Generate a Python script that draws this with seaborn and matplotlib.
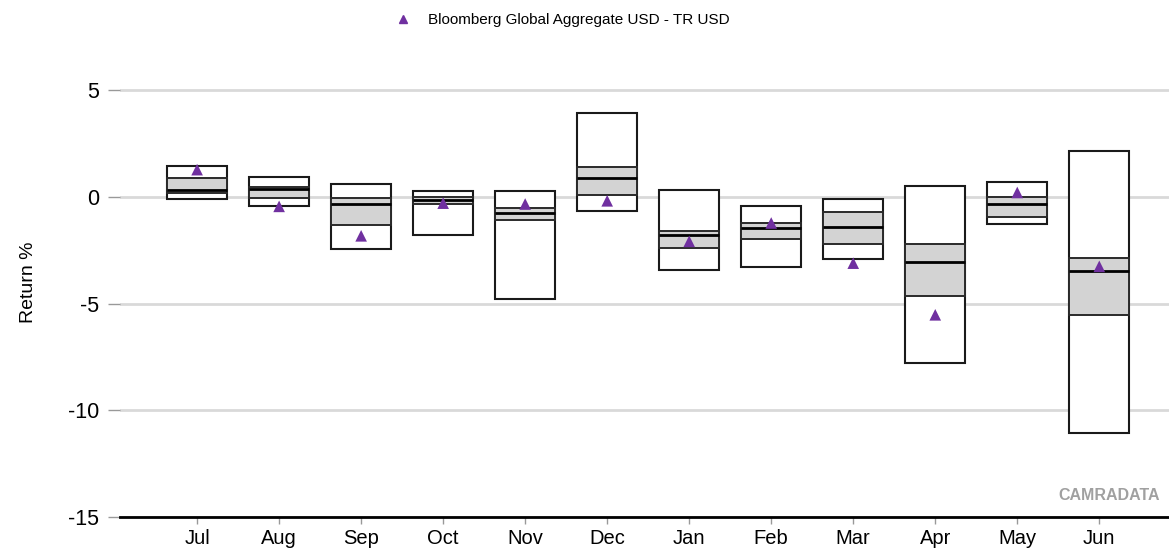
import numpy as np
import pandas as pd
import matplotlib
matplotlib.use("Agg")
import matplotlib.pyplot as plt
import seaborn as sns
from matplotlib.lines import Line2D

months = ["Jul", "Aug", "Sep", "Oct", "Nov", "Dec", "Jan", "Feb", "Mar", "Apr", "May", "Jun"]
hi = [1.42, 0.92, 0.59, 0.28, 0.28, 3.90, 0.30, -0.41, -0.11, 0.52, 0.67, 2.12]
q3 = [0.87, 0.45, -0.06, -0.03, -0.53, 1.39, -1.59, -1.25, -0.70, -2.23, -0.03, -2.87]
med = [0.30, 0.36, -0.33, -0.15, -0.76, 0.86, -1.81, -1.48, -1.41, -3.04, -0.34, -3.48]
q1 = [0.17, -0.06, -1.31, -0.34, -1.08, 0.09, -2.40, -1.98, -2.20, -4.67, -0.97, -5.53]
lo = [-0.12, -0.45, -2.44, -1.78, -4.79, -0.66, -3.42, -3.29, -2.92, -7.81, -1.28, -11.05]
bench = [1.27, -0.45, -1.83, -0.30, -0.34, -0.19, -2.09, -1.23, -3.11, -5.53, 0.20, -3.26]
bench_name = "Bloomberg Global Aggregate USD - TR USD"
yticks = [5, 0, -5, -10, -15]

df = pd.DataFrame({"month": months, "hi": hi, "q3": q3, "med": med, "q1": q1, "lo": lo, "bench": bench})
df["outer_h"] = df["hi"] - df["lo"]
df["inner_h"] = df["q3"] - df["q1"]

sns.set_style("white")
plt.rcParams["font.family"] = ["Liberation Sans", "DejaVu Sans"]
plt.rcParams["text.color"] = "black"
plt.rcParams["axes.labelcolor"] = "black"
plt.rcParams["xtick.color"] = "black"
plt.rcParams["ytick.color"] = "black"

fig = plt.figure(figsize=(11.69, 5.54), dpi=100)
ax = fig.add_axes([120 / 1169, 37 / 554, 1 - 120 / 1169, (517 - 47.3) / 554])

W = 0.73
sns.barplot(data=df, x="month", y="outer_h", order=months, bottom=df["lo"].values,
            color="white", saturation=1, edgecolor="#1a1a1a", linewidth=1.5,
            width=W, errorbar=None, ax=ax, zorder=2)
sns.barplot(data=df, x="month", y="inner_h", order=months, bottom=df["q1"].values,
            color="#d3d3d3", saturation=1, edgecolor="#2a2a2a", linewidth=1.4,
            width=W, errorbar=None, ax=ax, zorder=3)
xpos = np.arange(len(months))
ax.hlines(df["med"], xpos - W / 2, xpos + W / 2, colors="black", linewidth=2.0, zorder=4)
sns.scatterplot(data=df, x="month", y="bench", marker="^", color="#7030A0", s=70,
                edgecolor="none", ax=ax, zorder=5, legend=False)

ax.set_xlim(-0.94, 11.85)
ax.set_ylim(-15, 7)
ax.set_yticks(yticks)
ax.set_yticklabels([str(t) for t in yticks], fontsize=15.5)
ax.tick_params(axis="y", length=9, width=1, color="#999999", labelcolor="black", pad=6, left=True)
ax.tick_params(axis="x", length=5, width=1, color="#999999", labelcolor="black", pad=4, labelsize=14.5, bottom=True)
ax.set_xlabel("")
ax.set_ylabel("Return %", fontsize=14, labelpad=22, color="black")
ax.grid(axis="y", color="#d9d9d9", linewidth=2)
ax.grid(axis="x", visible=False)
ax.set_axisbelow(True)
for s in ["left", "top", "right"]:
    ax.spines[s].set_visible(False)
ax.spines["bottom"].set_color("black")
ax.spines["bottom"].set_linewidth(2)
ax.spines["bottom"].set_zorder(6)

handle = Line2D([], [], marker="^", color="#7030A0", linestyle="none", markersize=6)
fig.legend([handle], [bench_name], loc="center", bbox_to_anchor=(0.478, 0.963),
           frameon=False, fontsize=11, handletextpad=0.6, labelcolor="black")

fig.text(1160 / 1169, 1 - 495 / 554, "CAMRADATA", ha="right", va="center",
         fontsize=11.5, fontweight="bold", color="#a0a0a0")

fig.savefig("out.png", dpi=100)
